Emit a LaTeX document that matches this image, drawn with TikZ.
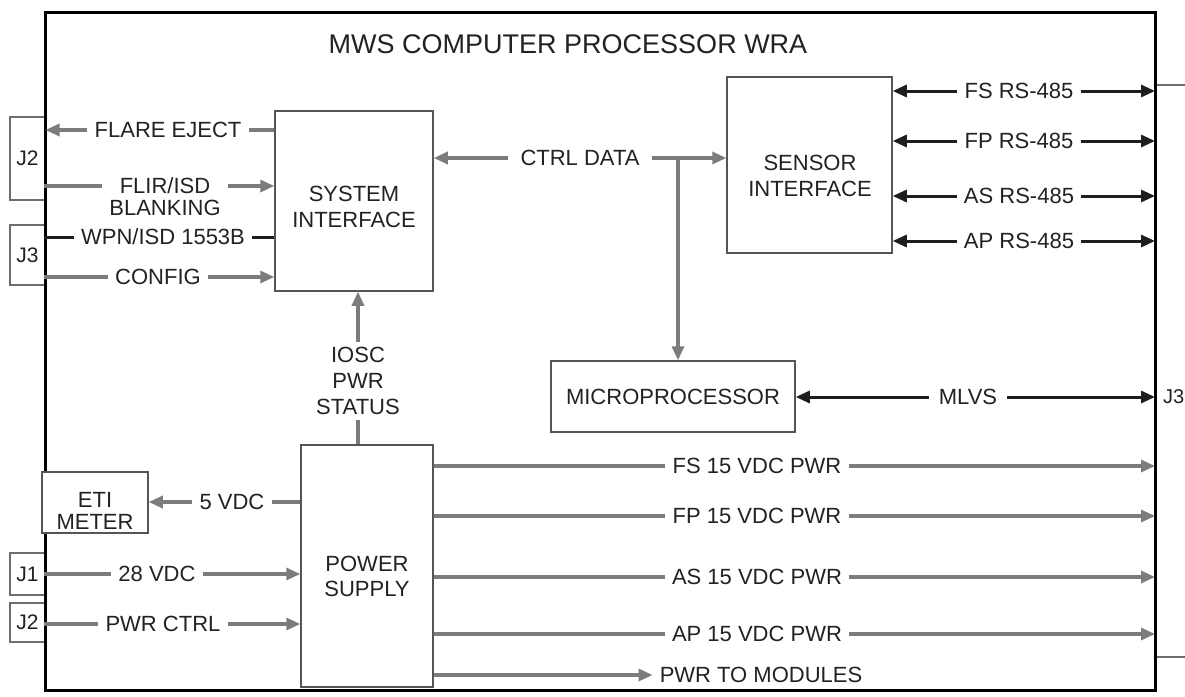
\documentclass[tikz,border=0pt]{standalone}
\usepackage{fontspec}
\setmainfont{Liberation Sans}
\usetikzlibrary{arrows.meta}
\definecolor{gline}{HTML}{7C7C7C}
\definecolor{bline}{HTML}{1E1E1E}
\definecolor{boxc}{HTML}{555555}
\definecolor{txtc}{HTML}{222222}
\begin{document}
\begin{tikzpicture}[x=1pt,y=-1pt,
  box/.style={draw=boxc, line width=1.5pt, fill=white, inner sep=0pt},
  conn/.style={draw=boxc!85, line width=1.2pt, inner sep=0pt, text=txtc, font=\fontsize{21}{24}\selectfont},
  lbl/.style={text=txtc, font=\fontsize{22}{26}\selectfont, align=center, inner xsep=7pt, inner ysep=0pt},
  ttl/.style={text=txtc, font=\fontsize{27}{30}\selectfont},
  gw/.style={draw=gline, line width=3.2pt},
  bw/.style={draw=bline, line width=3pt},
  tip/.style={-{Triangle[length=14pt,width=12pt]}},
]
\useasboundingbox (0,0) rectangle (1185,696);
\fill[white] (0,0) rectangle (1185,696);

% connector boxes on the left
\node[conn, minimum width=35pt, minimum height=83pt] (j2a) at (27.5,158.5) {J2};
\node[conn, minimum width=35pt, minimum height=60pt] (j3a) at (27.5,255) {J3};
\node[conn, minimum width=35pt, minimum height=42pt] (j1) at (27.5,574) {J1};
\node[conn, minimum width=35pt, minimum height=39pt] (j2b) at (27.5,622.5) {J2};

% outer box
\node[draw=black, line width=3pt, minimum width=1110pt, minimum height=678pt, inner sep=0pt] (outer) at (600,351) {};
\node[ttl] (title) at (568,44) {MWS COMPUTER PROCESSOR WRA};

% right connector bracket
\coordinate (rtop) at (1186,85);
\coordinate (rbot) at (1186,657);
\draw[conn] (outer.east |- rtop) -- (rtop);
\draw[conn] (outer.east |- rbot) -- (rbot);
\node[lbl, font=\fontsize{20}{24}\selectfont, inner xsep=0pt, anchor=west] (j3r) at (1163,397) {J3};

% blocks
\node[box, minimum width=106pt, minimum height=61pt] (eti) at (95,502.5) {};
\node[lbl, font=\fontsize{22}{22}\selectfont] (etitxt) at (95,511) {ETI\\METER};
\node[box, minimum width=158pt, minimum height=180pt] (si) at (354,201) {};
\node[lbl] (sitxt) at (354,207) {SYSTEM\\INTERFACE};
\node[box, minimum width=165pt, minimum height=176pt] (sens) at (809.5,165) {};
\node[lbl] (senstxt) at (810,176) {SENSOR\\INTERFACE};
\node[box, minimum width=244pt, minimum height=71pt, text=txtc, font=\fontsize{22}{26}\selectfont] (micro) at (673,396.5) {MICROPROCESSOR};
\node[box, minimum width=132pt, minimum height=242pt] (ps) at (367,566) {};
\node[lbl, font=\fontsize{22}{25}\selectfont] (pstxt) at (367,576) {POWER\\SUPPLY};

% left side signals
\node[lbl] (fe) at (168,130) {FLARE EJECT};
\draw[gw] (si.west |- fe) -- (fe.east);
\draw[gw,tip,shorten >=2pt] (fe.west) -- (outer.west |- fe);

\node[lbl, font=\fontsize{22}{22}\selectfont] (flir) at (165,197) {FLIR/ISD\\BLANKING};
\coordinate (flirY) at (0,186);
\draw[gw] (outer.west |- flirY) -- (flir.west |- flirY);
\draw[gw,tip] (flir.east |- flirY) -- (si.west |- flirY);

\node[lbl] (wpn) at (163,237) {WPN/ISD 1553B};
\draw[bw] (outer.west |- wpn) -- (wpn.west);
\draw[bw] (wpn.east) -- (si.west |- wpn);

\node[lbl] (cfg) at (158,277) {CONFIG};
\draw[gw] (outer.west |- cfg) -- (cfg.west);
\draw[gw,tip] (cfg.east) -- (si.west |- cfg);

% control data
\node[lbl, inner xsep=12pt] (cd) at (580,158) {CTRL DATA};
\coordinate (cj) at (678,158);
\draw[gw,tip] (cd.west) -- (si.east |- cd);
\draw[gw,tip] (cd.east) -- (sens.west |- cd);
\draw[gw,tip] (cj) -- (cj |- micro.north);

% IOSC power status
\node[lbl, inner ysep=5pt] (iosc) at (358,381) {IOSC\\PWR\\STATUS};
\draw[gw,tip] (iosc.north) -- (iosc |- si.south);
\draw[gw] (iosc |- ps.north) -- (iosc.south);

% RS-485 links
\node[lbl] (fsr) at (1019,91) {FS RS-485};
\draw[bw,tip] (fsr.west) -- (sens.east |- fsr);
\draw[bw,tip,shorten >=1.5pt] (fsr.east) -- (outer.east |- fsr);
\node[lbl] (fpr) at (1019,141) {FP RS-485};
\draw[bw,tip] (fpr.west) -- (sens.east |- fpr);
\draw[bw,tip,shorten >=1.5pt] (fpr.east) -- (outer.east |- fpr);
\node[lbl] (asr) at (1019,196) {AS RS-485};
\draw[bw,tip] (asr.west) -- (sens.east |- asr);
\draw[bw,tip,shorten >=1.5pt] (asr.east) -- (outer.east |- asr);
\node[lbl] (apr) at (1019,241) {AP RS-485};
\draw[bw,tip] (apr.west) -- (sens.east |- apr);
\draw[bw,tip,shorten >=1.5pt] (apr.east) -- (outer.east |- apr);

% MLVS
\node[lbl, inner xsep=10pt] (mlvs) at (968,397) {MLVS};
\draw[bw,tip] (mlvs.west) -- (micro.east |- mlvs);
\draw[bw,tip,shorten >=1.5pt] (mlvs.east) -- (outer.east |- mlvs);

% 15 VDC power
\node[lbl] (fs15) at (757,466) {FS 15 VDC PWR};
\draw[gw] (ps.east |- fs15) -- (fs15.west);
\draw[gw,tip,shorten >=1.5pt] (fs15.east) -- (outer.east |- fs15);
\node[lbl] (fp15) at (757,516) {FP 15 VDC PWR};
\draw[gw] (ps.east |- fp15) -- (fp15.west);
\draw[gw,tip,shorten >=1.5pt] (fp15.east) -- (outer.east |- fp15);
\node[lbl] (as15) at (757,577) {AS 15 VDC PWR};
\draw[gw] (ps.east |- as15) -- (as15.west);
\draw[gw,tip,shorten >=1.5pt] (as15.east) -- (outer.east |- as15);
\node[lbl] (ap15) at (757,634) {AP 15 VDC PWR};
\draw[gw] (ps.east |- ap15) -- (ap15.west);
\draw[gw,tip,shorten >=1.5pt] (ap15.east) -- (outer.east |- ap15);
\node[lbl] (ptm) at (761,675) {PWR TO MODULES};
\draw[gw,tip] (ps.east |- ptm) -- (ptm.west);

% power inputs / outputs on the left
\node[lbl] (v5) at (232,502) {5 VDC};
\draw[gw] (ps.west |- v5) -- (v5.east);
\draw[gw,tip] (v5.west) -- (eti.east |- v5);
\node[lbl] (v28) at (157,574) {28 VDC};
\draw[gw] (outer.west |- v28) -- (v28.west);
\draw[gw,tip] (v28.east) -- (ps.west |- v28);
\node[lbl] (pc) at (163,624) {PWR CTRL};
\draw[gw] (outer.west |- pc) -- (pc.west);
\draw[gw,tip] (pc.east) -- (ps.west |- pc);
\end{tikzpicture}
\end{document}
